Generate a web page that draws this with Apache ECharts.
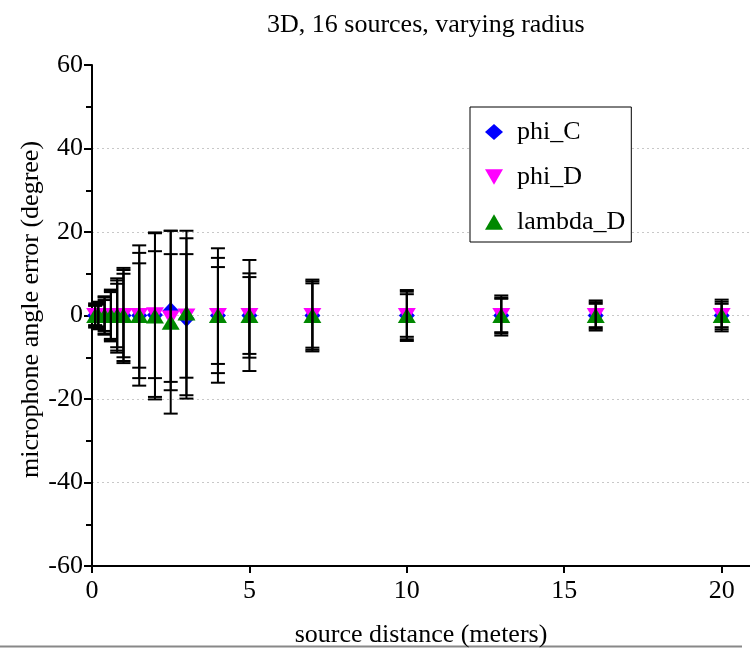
<!DOCTYPE html>
<html>
<head>
<meta charset="utf-8">
<script src="https://cdn.jsdelivr.net/npm/echarts@6/dist/echarts.min.js"></script>
<style>
html,body{margin:0;padding:0;background:#fff;}
#chart{width:750px;height:648px;}
</style>
</head>
<body>
<div id="chart"></div>
<script>
// ---- data ----
const distances = [0.1, 0.2, 0.4, 0.6, 0.8, 1, 1.5, 2, 2.5, 3, 4, 5, 7, 10, 13, 16, 20];

const phiC_mean = [0, 0, 0, 0, 0, 0, 0, 0.1, 1.2, -0.7, 0, 0, 0, 0, 0, 0, 0];
const phiC_err  = [2.6, 3.0, 4.3, 6.2, 8.9, 10.9, 16.8, 19.6, 19.1, 19.2, 16.1, 13.3, 8.6, 6.1, 4.8, 3.6, 3.8];

const phiD_mean = [0, 0, 0, 0, 0, 0, 0, 0.2, -0.6, -0.1, 0, 0, 0, 0, 0, 0, 0];
const phiD_err  = [2.3, 2.6, 3.7, 5.6, 7.6, 10.0, 12.5, 15.2, 15.3, 14.8, 13.8, 10.1, 7.7, 5.1, 4.0, 2.8, 2.8];

const lambdaD_mean = [0, 0, 0, 0, 0, 0, 0, -0.1, -1.6, 0.6, 0, 0, 0, 0, 0, 0, 0];
const lambdaD_err  = [2.9, 3.3, 4.6, 5.9, 8.4, 11.4, 15.0, 20.0, 21.9, 19.7, 11.6, 9.2, 8.2, 5.7, 4.3, 3.2, 3.3];

const xTicks = [0, 5, 10, 15, 20];
const seriesNames = ['phi_C', 'phi_D', 'lambda_D'];

// ---- build ----
const FONT = '"Liberation Serif", "Times New Roman", serif';
const means = [phiC_mean, phiD_mean, lambdaD_mean];
const errs = [phiC_err, phiD_err, lambdaD_err];

const errData = [];
for (let s = 0; s < 3; s++) {
  distances.forEach((x, i) => {
    errData.push([x, means[s][i] - errs[s][i], means[s][i] + errs[s][i]]);
  });
}
function pts(m) { return distances.map((x, i) => [x, m[i]]); }

const chart = echarts.init(document.getElementById('chart'), null, {renderer: 'canvas'});
chart.setOption({
  animation: false,
  backgroundColor: '#fff',
  title: {
    text: '3D, 16 sources, varying radius',
    left: 262, top: 7,
    textStyle: {fontFamily: FONT, fontSize: 26, fontWeight: 'normal', color: '#000'}
  },
  grid: {left: 92, right: 0, top: 65, bottom: 82, containLabel: false, outerBoundsMode: 'none'},
  legend: {
    orient: 'vertical',
    left: 470, top: 107,
    data: seriesNames,
    borderColor: '#000', borderWidth: 1,
    padding: [12, 6, 7, 15],
    itemGap: 19,
    itemWidth: 18, itemHeight: 16,
    backgroundColor: '#fff',
    textStyle: {fontFamily: FONT, fontSize: 26, color: '#000', padding: [0, 0, 0, 9]}
  },
  xAxis: {
    type: 'value', min: 0, max: 20.9,
    name: 'source distance (meters)', nameLocation: 'middle', nameGap: 56, nameMoveOverlap: false,
    nameTextStyle: {fontFamily: FONT, fontSize: 26, color: '#000'},
    axisLine: {onZero: false, lineStyle: {color: '#000', width: 2}},
    axisTick: {show: true, inside: false, length: 7, lineStyle: {color: '#000', width: 2}, customValues: xTicks},
    axisLabel: {fontFamily: FONT, fontSize: 26, color: '#000', margin: 12, customValues: xTicks},
    splitLine: {show: false}
  },
  yAxis: {
    type: 'value', min: -60, max: 60, interval: 20,
    name: 'microphone angle error (degree)', nameLocation: 'middle', nameGap: 48, nameRotate: 90,
    nameMoveOverlap: false,
    nameTextStyle: {fontFamily: FONT, fontSize: 26, color: '#000', padding: [0, 0, 0, 12]},
    axisLine: {show: true, lineStyle: {color: '#000', width: 2}},
    axisTick: {show: true, inside: false, length: 8, lineStyle: {color: '#000', width: 2}},
    minorTick: {show: true, splitNumber: 2, length: 6, lineStyle: {color: '#000', width: 2}},
    axisLabel: {fontFamily: FONT, fontSize: 26, color: '#000', margin: 9},
    splitLine: {show: true, showMinLine: false, showMaxLine: false, lineStyle: {color: '#c8c8c8', type: [2, 3], width: 1}}
  },
  series: [
    {
      name: 'phi_C', type: 'scatter', data: pts(phiC_mean),
      symbol: 'diamond', symbolSize: [16, 17], z: 2,
      itemStyle: {color: '#0000ff', opacity: 1}
    },
    {
      name: 'phi_D', type: 'scatter', data: pts(phiD_mean),
      symbol: 'path://M0,0 L10,0 L5,8.5 Z', symbolSize: [18, 15], z: 3,
      itemStyle: {color: '#ff00ff', opacity: 1}
    },
    {
      name: 'lambda_D', type: 'scatter', data: pts(lambdaD_mean),
      symbol: 'path://M5,0 L10,8.5 L0,8.5 Z', symbolSize: [18, 15], z: 4,
      itemStyle: {color: '#008800', opacity: 1}
    },
    {
      name: 'errorbars', type: 'custom', z: 5,
      data: errData,
      encode: {x: 0, y: [1, 2]},
      renderItem: function (params, api) {
        const x = api.value(0), lo = api.value(1), hi = api.value(2);
        const pLo = api.coord([x, lo]);
        const pHi = api.coord([x, hi]);
        const hw = 7;
        const st = {stroke: '#000', lineWidth: 2};
        return {
          type: 'group',
          children: [
            {type: 'line', shape: {x1: pHi[0], y1: pHi[1], x2: pLo[0], y2: pLo[1]}, style: st},
            {type: 'line', shape: {x1: pHi[0] - hw, y1: pHi[1], x2: pHi[0] + hw, y2: pHi[1]}, style: st},
            {type: 'line', shape: {x1: pLo[0] - hw, y1: pLo[1], x2: pLo[0] + hw, y2: pLo[1]}, style: st}
          ]
        };
      }
    }
  ],
  graphic: [
    {type: 'line', shape: {x1: 0, y1: 646.5, x2: 742, y2: 646.5}, style: {stroke: '#888', lineWidth: 2}, silent: true}
  ]
});
</script>
</body>
</html>
